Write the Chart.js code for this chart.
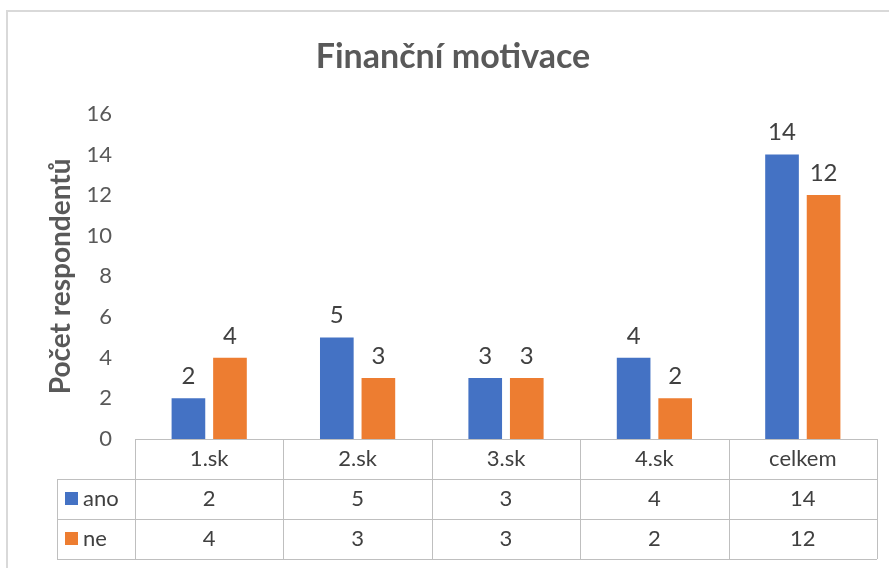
<!DOCTYPE html>
<html>
<head>
<meta charset="utf-8">
<script src="https://cdn.jsdelivr.net/npm/chart.js@4.4.0/dist/chart.umd.min.js"></script>
<style>
  html, body { margin: 0; padding: 0; background: #fff; }
  #wrap { width: 889px; height: 568px; }
</style>
</head>
<body>
<div id="wrap"><canvas id="chart" width="889" height="568"></canvas></div>
<script>
// data
const categories = ['1.sk', '2.sk', '3.sk', '4.sk', 'celkem'];
const seriesNames = ['ano', 'ne'];
const anoValues = [2, 5, 3, 4, 14];
const neValues = [4, 3, 3, 2, 12];
const yMax = 16;
const yStep = 2;

const colors = ['#4472C4', '#ED7D31'];
const FONT = 'Lato, "Open Sans", sans-serif';

// white background + light frame at top/left
const framePlugin = {
    id: 'frame',
    beforeDraw(chart) {
        const ctx = chart.ctx;
        ctx.save();
        ctx.fillStyle = '#fff';
        ctx.fillRect(0, 0, chart.width, chart.height);
        ctx.strokeStyle = '#d9d9d9';
        ctx.lineWidth = 2;
        ctx.beginPath();
        ctx.moveTo(7, chart.height);
        ctx.lineTo(7, 11);
        ctx.lineTo(chart.width, 11);
        ctx.stroke();
        ctx.restore();
    }
};

// value labels above the bars
const valueLabels = {
    id: 'valueLabels',
    afterDatasetsDraw(chart) {
        const ctx = chart.ctx;
        ctx.save();
        ctx.font = '24px ' + FONT;
        ctx.fillStyle = '#404040';
        ctx.textAlign = 'center';
        ctx.textBaseline = 'alphabetic';
        chart.data.datasets.forEach((ds, i) => {
            chart.getDatasetMeta(i).data.forEach((bar, j) => {
                ctx.fillText(String(ds.data[j]), bar.x, bar.y - 14);
            });
        });
        ctx.restore();
    }
};

// data table under the plot
const dataTable = {
    id: 'dataTable',
    afterDraw(chart) {
        const ctx = chart.ctx;
        const x = chart.scales.x;
        const top = chart.chartArea.bottom;
        const rowH = 40;
        const n = categories.length;
        const catW = x.getPixelForValue(1) - x.getPixelForValue(0);
        const left = x.getPixelForValue(0) - catW / 2;
        const right = x.getPixelForValue(n - 1) + catW / 2;
        const legendLeft = 57;
        const c = v => Math.round(v) + 0.5;

        ctx.save();
        ctx.strokeStyle = '#bfbfbf';
        ctx.lineWidth = 1;
        ctx.beginPath();
        ctx.moveTo(left, c(top));
        ctx.lineTo(right, c(top));
        for (let r = 1; r <= 3; r++) {
            ctx.moveTo(legendLeft, c(top + r * rowH));
            ctx.lineTo(right, c(top + r * rowH));
        }
        ctx.moveTo(c(legendLeft), top + rowH);
        ctx.lineTo(c(legendLeft), top + 3 * rowH);
        for (let i = 0; i <= n; i++) {
            const bx = c(left + i * catW);
            ctx.moveTo(bx, top);
            ctx.lineTo(bx, top + 3 * rowH);
        }
        ctx.stroke();

        ctx.font = '22px ' + FONT;
        ctx.fillStyle = '#404040';
        ctx.textAlign = 'center';
        ctx.textBaseline = 'middle';
        categories.forEach((cat, i) => {
            ctx.fillText(cat, x.getPixelForValue(i), top + rowH / 2);
        });
        chart.data.datasets.forEach((ds, r) => {
            const cy = top + (r + 1.5) * rowH;
            ds.data.forEach((v, i) => {
                ctx.fillText(String(v), x.getPixelForValue(i), cy);
            });
            ctx.fillStyle = ds.backgroundColor;
            ctx.fillRect(65, cy - 7, 13, 13);
            ctx.fillStyle = '#404040';
            ctx.textAlign = 'left';
            ctx.fillText(ds.label, 83, cy);
            ctx.textAlign = 'center';
        });
        ctx.restore();
    }
};

const ctx = document.getElementById('chart').getContext('2d');
new Chart(ctx, {
    type: 'bar',
    data: {
        labels: categories,
        datasets: [
            { label: seriesNames[0], data: anoValues, backgroundColor: colors[0] },
            { label: seriesNames[1], data: neValues, backgroundColor: colors[1] }
        ]
    },
    options: {
        responsive: false,
        animation: false,
        devicePixelRatio: 1,
        categoryPercentage: 0.56,
        barPercentage: 0.81,
        layout: { padding: { left: 29, right: 12, top: 0, bottom: 129 } },
        plugins: {
            legend: { display: false },
            tooltip: { enabled: false },
            title: {
                display: true,
                text: 'Finanční motivace',
                color: '#595959',
                font: { family: FONT, size: 34, weight: 'bold' },
                padding: { top: 37, bottom: 36 }
            }
        },
        scales: {
            x: { display: false },
            y: {
                min: 0,
                max: yMax,
                ticks: {
                    stepSize: yStep,
                    color: '#595959',
                    font: { family: FONT, size: 22 },
                    padding: 23
                },
                grid: { display: false, drawTicks: false },
                border: { display: false },
                title: {
                    display: true,
                    text: 'Počet respondentů',
                    color: '#595959',
                    font: { family: FONT, size: 28, weight: 'bold' },
                    padding: { top: 15, bottom: 0 }
                },
                afterFit(scale) { scale.width = 106; }
            }
        }
    },
    plugins: [framePlugin, valueLabels, dataTable]
});
</script>
</body>
</html>
